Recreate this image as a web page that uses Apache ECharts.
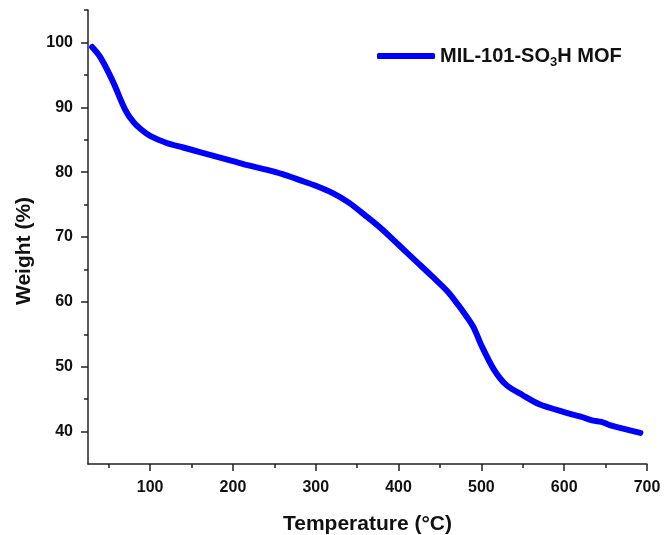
<!DOCTYPE html>
<html>
<head>
<meta charset="utf-8">
<script src="https://cdn.jsdelivr.net/npm/echarts@6/dist/echarts.min.js"></script>
<style>
html,body{margin:0;padding:0;background:#fff;}
#main{width:664px;height:535px;}
</style>
</head>
<body>
<div id="main"></div>
<script>
// TGA curve
var temps = [30,40,55,70,80,90,100,120,140,160,180,200,220,240,260,280,300,320,340,360,380,400,420,440,460,475,490,500,515,530,550,570,600,620,635,645,655,670,692];
var weights = [99.3,97.7,94.0,89.6,87.7,86.5,85.6,84.5,83.8,83.1,82.4,81.7,81.0,80.4,79.7,78.8,77.9,76.8,75.3,73.3,71.2,68.8,66.4,64.0,61.5,59.0,56.2,53.3,49.6,47.2,45.6,44.2,43.0,42.3,41.7,41.5,41.0,40.5,39.8];
var xMajor = [100,200,300,400,500,600,700];
var xMinor = [50,150,250,350,450,550,650];
var yMajor = [40,50,60,70,80,90,100];
var yMinor = [45,55,65,75,85,95,105];

var pts = [];
for(var i=0;i<temps.length;i++){
	pts.push([temps[i],weights[i]]);
}

var myChart = echarts.init(document.getElementById('main'));
var fnt = '"Liberation Sans", Arial, sans-serif';
var axisCol = '#222';

var option = {
	animation:false,
	backgroundColor:'#fff',
	grid:{left:88,right:17,top:10,bottom:71,containLabel:false,outerBoundsMode:'none'},
	legend:{
		left:372,
		top:41,
		itemWidth:58,
		itemHeight:6,
		itemGap:6,
		data:[{name:'MIL-101-SO3H MOF',icon:'roundRect'}],
		formatter:function(){ return '{a|MIL-101-SO}{s|3}{a|H MOF}'; },
		textStyle:{
			rich:{
				a:{fontFamily:fnt,fontWeight:'bold',fontSize:20,color:'#111'},
				s:{fontFamily:fnt,fontWeight:'bold',fontSize:13,color:'#111',padding:[12,0,0,0]}
			}
		}
	},
	xAxis:[
		{
			type:'value',min:25,max:700,
			name:'Temperature (°C)',nameLocation:'middle',nameGap:50,
			nameTextStyle:{fontFamily:fnt,fontWeight:'bold',fontSize:21,color:'#111'},
			splitLine:{show:false},
			axisLine:{show:true,lineStyle:{color:axisCol,width:1.5}},
			axisTick:{show:true,length:7,lineStyle:{color:axisCol,width:1.5},customValues:xMajor},
			axisLabel:{margin:16,fontFamily:fnt,fontWeight:'bold',fontSize:16,color:'#111',customValues:xMajor}
		},
		{
			type:'value',min:25,max:700,position:'bottom',
			splitLine:{show:false},
			axisLine:{show:false},
			axisTick:{show:true,length:4,lineStyle:{color:axisCol,width:1.5},customValues:xMinor},
			axisLabel:{show:false}
		}
	],
	yAxis:[
		{
			type:'value',min:35,max:105,
			name:'Weight (%)',nameLocation:'middle',nameGap:53,
			nameTextStyle:{fontFamily:fnt,fontWeight:'bold',fontSize:21,color:'#111',padding:[0,28,0,0]},
			splitLine:{show:false},
			axisLine:{show:true,lineStyle:{color:axisCol,width:1.5}},
			axisTick:{show:true,length:7,lineStyle:{color:axisCol,width:1.5},customValues:yMajor},
			axisLabel:{margin:15,fontFamily:fnt,fontWeight:'bold',fontSize:16,color:'#111',customValues:yMajor}
		},
		{
			type:'value',min:35,max:105,position:'left',
			splitLine:{show:false},
			axisLine:{show:false},
			axisTick:{show:true,length:4,lineStyle:{color:axisCol,width:1.5},customValues:yMinor},
			axisLabel:{show:false}
		}
	],
	series:[
		{
			name:'MIL-101-SO3H MOF',
			type:'line',
			xAxisIndex:0,
			yAxisIndex:0,
			smooth:0.3,
			showSymbol:false,
			symbol:'none',
			color:'#0000ff',
			lineStyle:{color:'#0000ff',width:6,cap:'round'},
			data:pts
		}
	]
};
myChart.setOption(option);
window.onresize = myChart.resize;
</script>
</body>
</html>
